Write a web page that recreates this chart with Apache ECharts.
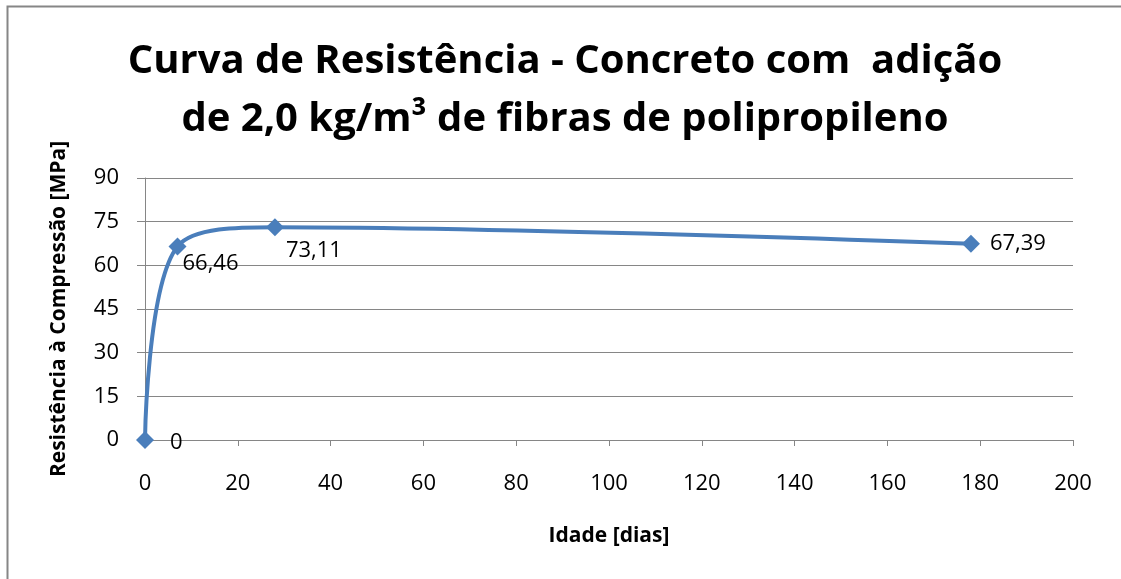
<!DOCTYPE html>
<html>
<head>
<meta charset="utf-8">
<script src="https://cdn.jsdelivr.net/npm/echarts@6/dist/echarts.min.js"></script>
<style>
  html, body { margin: 0; padding: 0; background: #fff; }
  #chart { width: 1121px; height: 579px; }
</style>
</head>
<body>
<div id="chart"></div>
<script>
// idade (dias) x resistência (MPa)
const idades = [0, 7, 28, 178]
const resistencias = [0, 66.46, 73.11, 67.39]
const rotulos = ['0', '66,46', '73,11', '67,39']
// posição de cada rótulo em relação ao ponto
const rotuloOffsets = [[16, 3], [-4, 17], [2, 24], [10, 0]]

const fonte = 'Open Sans, Noto Sans, sans-serif'
const cinza = '#868686'

const chart = echarts.init(document.getElementById('chart'))

const pontos = idades.map((x, i) => ({
  value: [x, resistencias[i]],
  label: {
    formatter: rotulos[i],
    offset: rotuloOffsets[i]
  }
}))

const option = {
  backgroundColor: '#fff',
  animation: false,
  title: {
    text: 'Curva de Resistência - Concreto com  adição\nde 2,0 kg/m³ de fibras de polipropileno',
    left: 560,
    textAlign: 'center',
    top: 28,
    textStyle: {
      fontFamily: fonte,
      fontSize: 40,
      fontWeight: 'bold',
      color: '#000',
      lineHeight: 58
    }
  },
  graphic: [
    {
      type: 'rect',
      shape: { x: 7.5, y: 6.5, width: 1200, height: 700 },
      style: { fill: 'none', stroke: cinza, lineWidth: 2 },
      z: -1
    }
  ],
  grid: {
    left: 145,
    right: 48,
    top: 178,
    bottom: 139
  },
  xAxis: {
    type: 'value',
    min: 0,
    max: 200,
    interval: 20,
    name: 'Idade [dias]',
    nameLocation: 'middle',
    nameGap: 86,
    nameTextStyle: { fontFamily: fonte, fontSize: 21, fontWeight: 'bold', color: '#000' },
    axisLine: { show: true, lineStyle: { color: cinza, width: 1 } },
    axisTick: { show: true, length: 6, lineStyle: { color: cinza } },
    axisLabel: { margin: 33, fontFamily: fonte, fontSize: 22, color: '#000' },
    splitLine: { show: false }
  },
  yAxis: {
    type: 'value',
    min: 0,
    max: 90,
    interval: 15,
    name: 'Resistência à Compressão [MPa]',
    nameLocation: 'middle',
    nameGap: 75,
    nameTextStyle: { fontFamily: fonte, fontSize: 21, fontWeight: 'bold', color: '#000' },
    axisLine: { show: true, lineStyle: { color: cinza, width: 1 } },
    axisTick: { show: true, length: 8, lineStyle: { color: cinza } },
    axisLabel: { margin: 26, fontFamily: fonte, fontSize: 22, color: '#000' },
    splitLine: { show: true, lineStyle: { color: cinza, width: 1 } }
  },
  series: [
    {
      type: 'line',
      data: pontos,
      smooth: 0.35,
      symbol: 'diamond',
      symbolSize: 18,
      lineStyle: { color: '#4a7ebb', width: 4 },
      itemStyle: { color: '#4a7ebb' },
      label: {
        show: true,
        position: 'right',
        distance: 0,
        fontFamily: fonte,
        fontSize: 22,
        color: '#000'
      }
    }
  ]
}

chart.setOption(option)
</script>
</body>
</html>
